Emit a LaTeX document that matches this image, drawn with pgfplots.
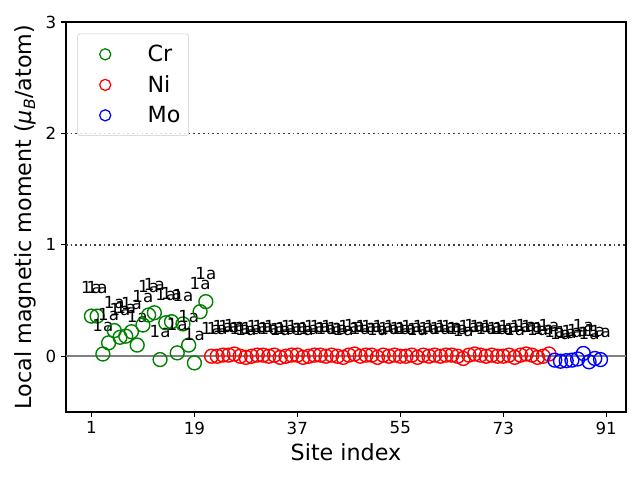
\documentclass[border=0pt]{standalone}
\usepackage{pgfplots}
\pgfplotsset{compat=1.18}
\usepackage{fontspec}
\setmainfont{DejaVu Sans}
\definecolor{mgreen}{HTML}{008000}
\definecolor{mred}{HTML}{FF0000}
\definecolor{mblue}{HTML}{0000FF}
\pgfplotstableread{
x y
1 0.36
2 0.36
3 0.02
4 0.12
5 0.23
6 0.17
7 0.18
8 0.22
9 0.10
10 0.28
11 0.37
12 0.39
13 -0.03
14 0.30
15 0.31
16 0.03
17 0.29
18 0.10
19 -0.06
20 0.40
21 0.49
}\crdata
\pgfplotstableread{
x y
22 0.00
23 0.00
24 0.01
25 0.01
26 0.02
27 0.00
28 -0.01
29 0.00
30 0.01
31 0.01
32 0.00
33 0.01
34 -0.01
35 0.00
36 0.01
37 0.01
38 -0.01
39 0.00
40 0.01
41 0.01
42 0.00
43 0.01
44 0.00
45 -0.01
46 0.01
47 0.02
48 0.00
49 0.01
50 0.01
51 -0.01
52 0.01
53 0.00
54 0.01
55 0.00
56 0.00
57 0.01
58 -0.01
59 0.01
60 0.00
61 0.01
62 0.00
63 0.01
64 0.01
65 0.00
66 -0.02
67 0.01
68 0.02
69 0.01
70 0.00
71 0.01
72 0.00
73 0.00
74 0.01
75 -0.01
76 0.01
77 0.02
78 0.01
79 -0.01
80 0.00
81 0.02
}\nidata
\pgfplotstableread{
x y
82 -0.035
83 -0.045
84 -0.04
85 -0.035
86 -0.025
87 0.025
88 -0.05
89 -0.02
90 -0.03
}\modata
\begin{document}
\begin{tikzpicture}
\begin{axis}[name=ax, scale only axis, width=403.2pt, height=280.8pt,
  xmin=-3.45, xmax=94.45, ymin=-0.5, ymax=3,
  xtick={1,19,37,55,73,91}, ytick={0,1,2,3},
  tick align=outside, tick pos=left, major tick length=3.5pt,
  /pgf/number format/assume math mode=true,
  ticklabel style={font=\fontsize{12}{14}\selectfont},
  xlabel={Site index},
  ylabel={Local magnetic moment (\textit{μ\textsubscript{B}}/atom)},
  label style={font=\fontsize{16}{19}\selectfont},
  axis line style={line width=0.8pt},
  every tick/.style={black, line width=0.8pt},
  legend style={at={(0.02,0.97)}, anchor=north west, draw=black!20, rounded corners=2pt,
    fill=white, fill opacity=0.8, text opacity=1,
    font=\fontsize{16}{19}\selectfont, inner xsep=4pt, inner ysep=6pt, row sep=4.5pt, column sep=12.5pt},
  legend image code/.code={\path[draw=none,fill=none] (0pt,0pt) -- (32pt,0pt); \draw[#1] plot[only marks, mark size=4pt, mark options={line width=0.9pt}] coordinates {(16pt,0pt)};},
  legend cell align=left,
  nodes near coords={1a},
  nodes near coords align={center},
  every node near coord/.append style={anchor=base, yshift=16pt, inner sep=0pt, black, font=\fontsize{12}{14}\selectfont},
]
\addplot[forget plot, gray, line width=1.5pt, nodes near coords={}] coordinates {(-3.45,0) (94.45,0)};
\addplot[forget plot, black!75, line width=1.2pt, dash pattern=on 1.2pt off 2.2pt, nodes near coords={}] coordinates {(-3.45,1) (94.45,1)};
\addplot[forget plot, black!75, line width=1.2pt, dash pattern=on 1.2pt off 2.2pt, nodes near coords={}] coordinates {(-3.45,2) (94.45,2)};
\addplot[only marks, mark=o, mark size=5pt, mgreen, mark options={line width=1pt}] table[x=x,y=y] {\crdata};
\addlegendentry{Cr}
\addplot[only marks, mark=o, mark size=5pt, mred, mark options={line width=1pt}] table[x=x,y=y] {\nidata};
\addlegendentry{Ni}
\addplot[only marks, mark=o, mark size=5pt, mblue, mark options={line width=1pt}] table[x=x,y=y] {\modata};
\addlegendentry{Mo}
\end{axis}
\pgfresetboundingbox
\path ([shift={(-47.5pt,-49.0pt)}]ax.south west) rectangle ([shift={(10.1pt,15.8pt)}]ax.north east);
\end{tikzpicture}
\end{document}
